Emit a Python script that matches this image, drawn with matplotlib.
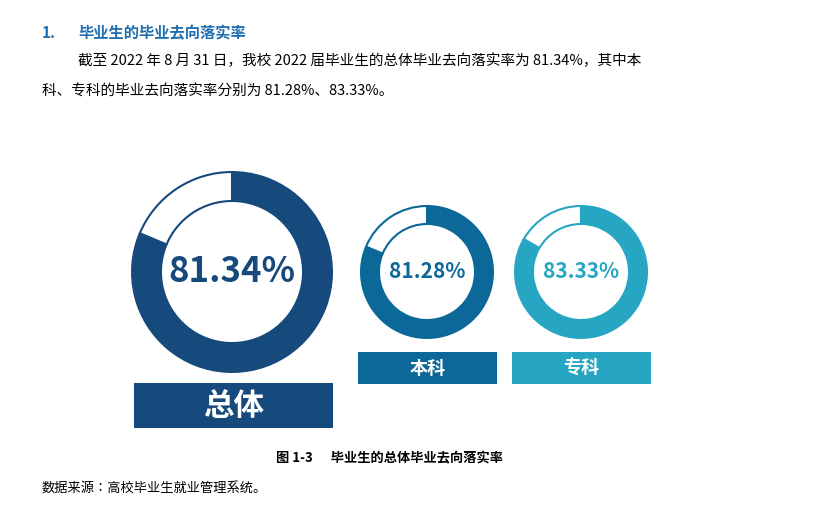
import matplotlib
matplotlib.use("Agg")
import matplotlib.pyplot as plt
from matplotlib import font_manager as fm
from matplotlib.patches import Wedge, Rectangle

cjk = None
for f in fm.fontManager.ttflist:
    if "CJK" in f.name and ("SC" in f.name or cjk is None):
        cjk = f.name
        if "SC" in f.name:
            break
plt.rcParams["font.family"] = [cjk or "Noto Sans CJK SC", "DejaVu Sans"]

categories = ["总体", "本科", "专科"]
rates = [81.34, 81.28, 83.33]
colors = ["#174a7c", "#0b6898", "#27a6c4"]
centers = [(232, 272), (427, 272), (581, 272)]
radii = [(101, 70), (67, 47), (67, 47)]
boxes = [(134, 383, 199, 45, 22), (358, 352, 139, 32, 13), (512, 352, 139, 32, 13)]
text_sizes = [25, 15, 15]

fig = plt.figure(figsize=(8.34, 5.32), dpi=100)
ax = fig.add_axes([0, 0, 1, 1])
ax.set_xlim(0, 834)
ax.set_ylim(532, 0)
ax.axis("off")

for cat, r, c, (cx, cy), (ro, ri), (bx, by, bw, bh, bfs), ts in zip(
        categories, rates, colors, centers, radii, boxes, text_sizes):
    end = 270 + 360 * r / 100
    ax.add_patch(Wedge((cx, cy), ro, 270, end, width=ro - ri, facecolor=c, edgecolor="none"))
    ax.add_patch(Wedge((cx, cy), ro - 1, end, 270 + 360, width=ro - ri - 2,
                       facecolor="white", edgecolor=c, linewidth=1.5))
    ax.text(cx, cy, f"{r:.2f}%", color=c, fontsize=ts, fontweight="bold",
            ha="center", va="center")
    ax.add_patch(Rectangle((bx, by), bw, bh, facecolor=c, edgecolor="none"))
    ax.text(bx + bw / 2, by + bh / 2, cat, color="white", fontsize=bfs,
            fontweight="bold", ha="center", va="center")

ax.text(42, 33, "1.", color="#1f6fb0", fontsize=11, fontweight="bold", va="center")
ax.text(78, 33, "毕业生的毕业去向落实率", color="#1f6fb0", fontsize=11, fontweight="bold", va="center")
ax.text(78, 61, "截至 2022 年 8 月 31 日，我校 2022 届毕业生的总体毕业去向落实率为 81.34%，其中本",
        fontsize=10.5, va="center", color="black")
ax.text(42, 92, "科、专科的毕业去向落实率分别为 81.28%、83.33%。", fontsize=10.5, va="center", color="black")
ax.text(390, 458, "图 1-3      毕业生的总体毕业去向落实率", fontsize=9.5, fontweight="bold",
        ha="center", va="center", color="black")
ax.text(42, 488, "数据来源：高校毕业生就业管理系统。", fontsize=9.5, va="center", color="black")

fig.savefig("out.png", dpi=100)
